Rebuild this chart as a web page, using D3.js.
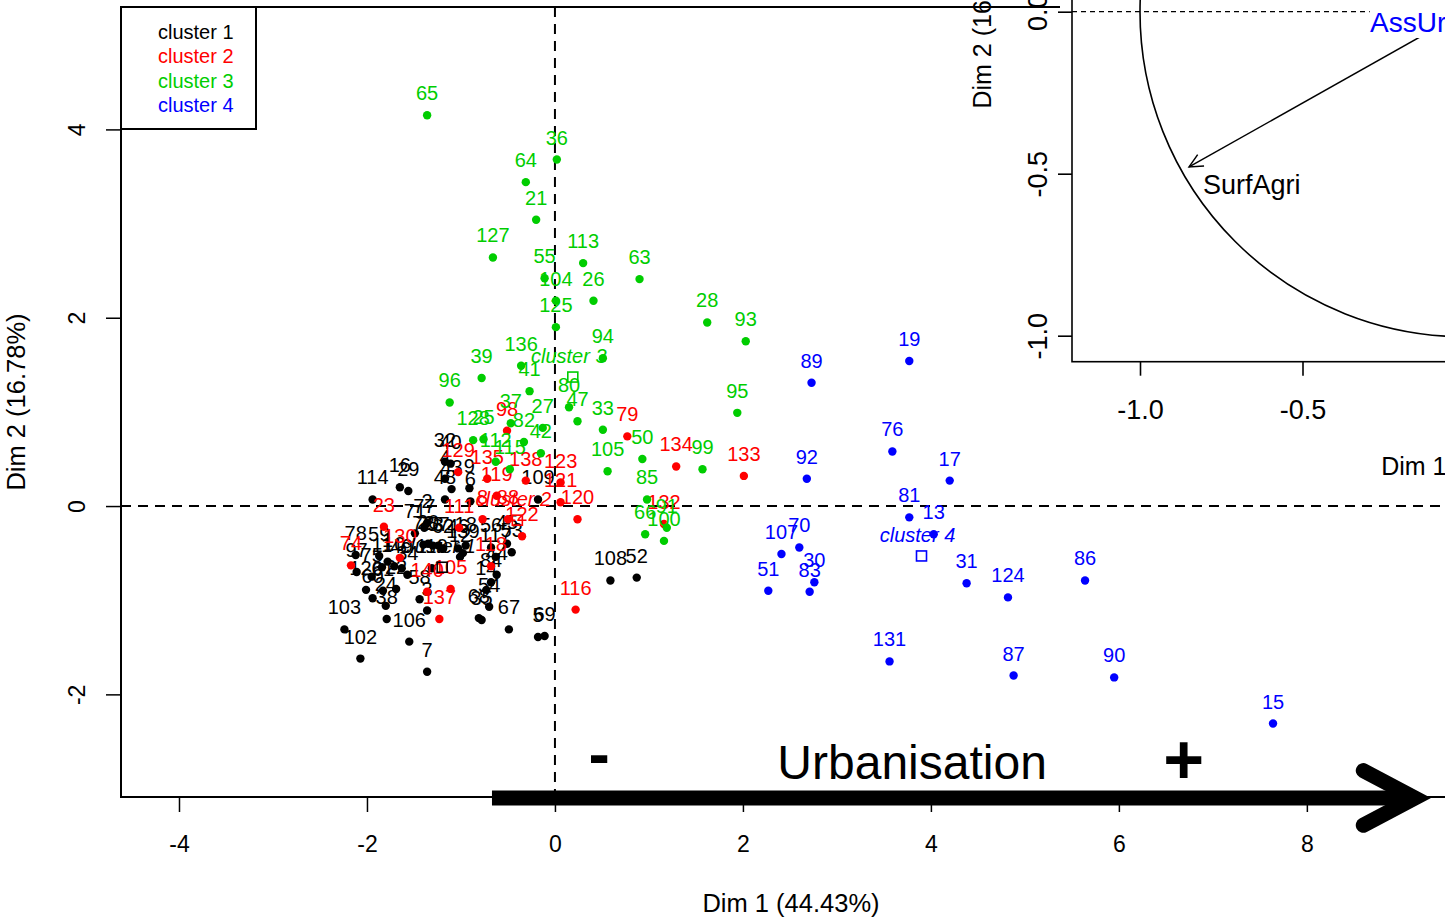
<!DOCTYPE html>
<html>
<head>
<meta charset="utf-8">
<script src="https://cdn.jsdelivr.net/npm/d3@7"></script>
<style>
html, body { margin: 0; padding: 0; background: #fff; overflow: hidden; }
svg { display: block; font-family: "Liberation Sans", Arial, sans-serif; }
</style>
</head>
<body>
<svg id="chart" width="1445" height="917"></svg>
<script>
// individuals: [label, Dim 1, Dim 2]
const cluster1 = [
  ['114',-1.94,0.07],['16',-1.65,0.20],['29',-1.56,0.16],['32',-1.17,0.47],['40',-1.11,0.45],
  ['4',-1.17,0.29],['43',-1.10,0.18],['48',-1.17,0.07],['9',-0.91,0.19],['6',-0.90,0.05],
  ['109',-0.18,0.07],['2',-1.36,-0.18],['71',-1.49,-0.29],['77',-1.39,-0.23],['72',-1.40,-0.41],
  ['20',-1.35,-0.40],['73',-1.30,-0.42],['57',-1.24,-0.42],['62',-1.19,-0.45],['46',-1.03,-0.45],
  ['18',-0.95,-0.42],['12',-1.01,-0.54],['78',-2.12,-0.52],['59',-1.87,-0.53],['97',-2.11,-0.70],
  ['75',-1.95,-0.75],['126',-2.01,-0.89],['1',-1.78,-0.59],['10',-1.71,-0.64],['11',-1.84,-0.65],
  ['49',-1.63,-0.66],['34',-1.57,-0.73],['60',-1.94,-0.98],['61',-1.83,-0.90],['24',-1.80,-1.06],
  ['22',-1.69,-0.88],['3',-1.36,-1.11],['58',-1.44,-0.99],['103',-2.24,-1.31],['102',-2.07,-1.62],
  ['106',-1.55,-1.44],['38',-1.79,-1.20],['7',-1.36,-1.76],['68',-0.81,-1.19],['35',-0.78,-1.21],
  ['67',-0.49,-1.31],['5',-0.18,-1.39],['69',-0.11,-1.38],['108',0.59,-0.79],['52',0.87,-0.76],
  ['84',-0.68,-0.81],['44',-0.62,-0.73],['54',-0.70,-1.07],['14',-0.73,-0.89],['56',-0.68,-0.44],
  ['45',-0.51,-0.40],['53',-0.46,-0.49],['117',-0.63,-0.54],['110',-1.31,-0.66],['139',-0.98,-0.50]
];
const cluster2 = [
  ['79',0.77,0.74],['134',1.29,0.42],['133',2.01,0.32],['123',0.06,0.25],['121',0.06,0.04],
  ['120',0.24,-0.14],['116',0.22,-1.10],['132',1.16,-0.19],['98',-0.51,0.80],['129',-1.03,0.36],
  ['135',-0.72,0.29],['119',-0.62,0.11],['138',-0.31,0.27],['111',-1.02,-0.23],['122',-0.35,-0.32],
  ['8',-0.77,-0.14],['88',-0.50,-0.14],['118',-0.68,-0.64],['140',-1.36,-0.91],['105',-1.11,-0.88],
  ['137',-1.23,-1.20],['74',-2.17,-0.63],['23',-1.82,-0.22],['130',-1.65,-0.55]
];
const cluster3 = [
  ['65',-1.36,4.15],['36',0.02,3.68],['64',-0.31,3.44],['21',-0.20,3.04],['127',-0.66,2.64],
  ['113',0.30,2.58],['63',0.90,2.41],['55',-0.11,2.42],['104',0.01,2.18],['26',0.41,2.18],
  ['125',0.01,1.90],['94',0.51,1.57],['136',-0.36,1.49],['41',-0.27,1.22],['80',0.15,1.05],
  ['47',0.24,0.90],['39',-0.78,1.36],['96',-1.12,1.10],['37',-0.47,0.88],['82',-0.33,0.68],
  ['27',-0.13,0.83],['42',-0.15,0.56],['128',-0.87,0.70],['25',-0.76,0.71],['112',-0.63,0.47],
  ['115',-0.48,0.39],['33',0.51,0.81],['50',0.93,0.50],['105',0.56,0.37],['85',0.98,0.07],
  ['99',1.57,0.39],['95',1.94,0.99],['66',0.96,-0.30],['100',1.16,-0.37],['91',1.19,-0.23],
  ['28',1.62,1.95],['93',2.03,1.75]
];
const cluster4 = [
  ['15',7.64,-2.31],['90',5.95,-1.82],['87',4.88,-1.80],['86',5.64,-0.79],['124',4.82,-0.97],
  ['131',3.56,-1.65],['31',4.38,-0.82],['13',4.03,-0.30],['81',3.77,-0.12],['17',4.20,0.27],
  ['76',3.59,0.58],['92',2.68,0.29],['107',2.41,-0.51],['70',2.60,-0.44],['51',2.27,-0.90],
  ['30',2.76,-0.81],['83',2.71,-0.91],['89',2.73,1.31],['19',3.77,1.54]
];
const clusterNames = ['cluster 1', 'cluster 2', 'cluster 3', 'cluster 4'];
const clusterColors = ['#000000', '#ff0000', '#00cd00', '#0000ff'];
const centroids = [[-1.20, -0.65], [-0.40, -0.15], [0.19, 1.37], [3.90, -0.53]];

const xTicks = [-4, -2, 0, 2, 4, 6, 8];
const yTicks = [-2, 0, 2, 4];
const xTitle = 'Dim 1 (44.43%)';
const yTitle = 'Dim 2 (16.78%)';

// variables factor map (inset)
const varNames = ['SurfAgri'];
const varCoords = [[-0.849, -0.479]];
const suppVarName = 'AssUrb';
const insetTicks = [-1.0, -0.5, 0.0];

const svg = d3.select('#chart');
const font = 'Liberation Sans, Arial, sans-serif';

const x = d3.scaleLinear().domain([-4.617, 9.64]).range([121, 1461]);
const y = d3.scaleLinear().domain([-3.09, 5.30]).range([797, 7]);

// reference lines
svg.append('line')
  .attr('x1', x(0)).attr('x2', x(0)).attr('y1', y(5.30)).attr('y2', y(-3.09))
  .attr('stroke', '#000').attr('stroke-width', 2).attr('stroke-dasharray', '10,7');
svg.append('line')
  .attr('x1', x(-4.617)).attr('x2', x(9.64)).attr('y1', y(0)).attr('y2', y(0))
  .attr('stroke', '#000').attr('stroke-width', 2).attr('stroke-dasharray', '10,7');

// axes (plain hyphen minus, like R)
const xAxis = svg.append('g')
  .attr('transform', `translate(0,${y(-3.09)})`)
  .call(d3.axisBottom(x).tickValues(xTicks).tickSize(15).tickSizeOuter(0).tickFormat(d => String(d)));
xAxis.select('.domain').remove();
xAxis.selectAll('line').attr('stroke-width', 1.5);
xAxis.selectAll('text').attr('y', 55).attr('dy', 0)
  .style('font-size', '23px').style('font-family', font).attr('fill', '#000');

const yAxis = svg.append('g')
  .attr('transform', `translate(${x(-4.617)},0)`)
  .call(d3.axisLeft(y).tickValues(yTicks).tickSize(15).tickSizeOuter(0).tickFormat(d => String(d)));
yAxis.select('.domain').remove();
yAxis.selectAll('line').attr('stroke-width', 1.5);
yAxis.selectAll('text')
  .attr('transform', 'rotate(-90)').attr('x', 0).attr('y', -36).attr('dy', 0)
  .attr('text-anchor', 'middle')
  .style('font-size', '23px').style('font-family', font).attr('fill', '#000');

svg.append('text')
  .attr('x', (x(-4.617) + x(9.64)) / 2).attr('y', 912)
  .attr('text-anchor', 'middle').style('font-size', '25.5px').text(xTitle);
svg.append('text')
  .attr('transform', `translate(25,${(y(5.30) + y(-3.09)) / 2}) rotate(-90)`)
  .attr('text-anchor', 'middle').style('font-size', '25.5px').text(yTitle);

// individuals
const clusters = [cluster1, cluster2, cluster3, cluster4];
clusters.forEach((pts, i) => {
  const g = svg.append('g').attr('fill', clusterColors[i]);
  g.selectAll('circle').data(pts).enter().append('circle')
    .attr('cx', d => x(d[1])).attr('cy', d => y(d[2])).attr('r', 4.2);
  g.selectAll('text').data(pts).enter().append('text')
    .attr('x', d => x(d[1])).attr('y', d => y(d[2]) - 15)
    .attr('text-anchor', 'middle').style('font-size', '20px')
    .text(d => d[0]);
});

// cluster centres
centroids.forEach((c, i) => {
  svg.append('rect')
    .attr('x', x(c[0]) - 5).attr('y', y(c[1]) - 5).attr('width', 10).attr('height', 10)
    .attr('fill', 'none').attr('stroke', clusterColors[i]).attr('stroke-width', 1.6);
  svg.append('text')
    .attr('x', x(c[0]) - 4).attr('y', y(c[1]) - 14)
    .attr('text-anchor', 'middle').style('font-size', '20px').style('font-style', 'italic')
    .attr('fill', clusterColors[i]).text(clusterNames[i]);
});

// frame
svg.append('rect')
  .attr('x', x(-4.617)).attr('y', y(5.30))
  .attr('width', x(9.64) - x(-4.617)).attr('height', y(-3.09) - y(5.30))
  .attr('fill', 'none').attr('stroke', '#000').attr('stroke-width', 2);

// legend
const legend = svg.append('g');
legend.append('rect').attr('x', 121).attr('y', 7).attr('width', 135).attr('height', 122)
  .attr('fill', '#fff').attr('stroke', '#000').attr('stroke-width', 2);
legend.selectAll('text').data(clusterNames).enter().append('text')
  .attr('x', 158).attr('y', (d, i) => 39 + i * 24.3)
  .style('font-size', '20px').attr('fill', (d, i) => clusterColors[i]).text(d => d);

// urbanisation arrow
const urb = svg.append('g');
urb.append('line')
  .attr('x1', x(-0.67)).attr('x2', x(9.05)).attr('y1', y(-3.1)).attr('y2', y(-3.1))
  .attr('stroke', '#000').attr('stroke-width', 15);
urb.append('path')
  .attr('d', `M${x(8.6)},${y(-2.81)} L${x(9.15)},${y(-3.1)} L${x(8.6)},${y(-3.39)}`)
  .attr('fill', 'none').attr('stroke', '#000').attr('stroke-width', 15)
  .attr('stroke-linecap', 'round').attr('stroke-linejoin', 'miter');
urb.append('text').attr('x', x(3.80)).attr('y', y(-2.9))
  .attr('text-anchor', 'middle').style('font-size', '48px').text('Urbanisation');
urb.append('text').attr('x', x(0.47)).attr('y', y(-2.87))
  .attr('text-anchor', 'middle').style('font-size', '64px').style('font-weight', 'bold').text('-');
urb.append('text').attr('x', x(6.69)).attr('y', y(-2.95))
  .attr('text-anchor', 'middle').style('font-size', '70px').style('font-weight', 'bold').text('+');

// inset: variables factor map
const xi = d3.scaleLinear().domain([-1, 0]).range([1140, 1465]);
const yi = d3.scaleLinear().domain([-1, 0]).range([335.7, 11.7]);
const inset = svg.append('g');
inset.append('rect').attr('x', 1060).attr('y', 0).attr('width', 385).attr('height', 380).attr('fill', '#fff');

const clip = svg.append('defs').append('clipPath').attr('id', 'insetClip');
clip.append('rect').attr('x', 1072).attr('y', -400).attr('width', 800).attr('height', 361.7 + 400);
const plotArea = inset.append('g').attr('clip-path', 'url(#insetClip)');

plotArea.append('circle')
  .attr('cx', xi(0)).attr('cy', yi(0)).attr('r', xi(0) - xi(-1))
  .attr('fill', 'none').attr('stroke', '#000').attr('stroke-width', 1.6);
plotArea.append('line')
  .attr('x1', 1072).attr('x2', 1461).attr('y1', yi(0)).attr('y2', yi(0))
  .attr('stroke', '#000').attr('stroke-width', 1.2).attr('stroke-dasharray', '5,4');

varCoords.forEach((v, i) => {
  const x0 = xi(0), y0 = yi(0), x1 = xi(v[0]), y1 = yi(v[1]);
  const ang = Math.atan2(y1 - y0, x1 - x0);
  const L = 15, a = Math.PI / 7;
  plotArea.append('line').attr('x1', x0).attr('y1', y0).attr('x2', x1).attr('y2', y1)
    .attr('stroke', '#000').attr('stroke-width', 1.5);
  plotArea.append('path')
    .attr('d', `M${x1 - L * Math.cos(ang - a)},${y1 - L * Math.sin(ang - a)} L${x1},${y1} L${x1 - L * Math.cos(ang + a)},${y1 - L * Math.sin(ang + a)}`)
    .attr('fill', 'none').attr('stroke', '#000').attr('stroke-width', 1.5);
  plotArea.append('text').attr('x', x1 + 14).attr('y', y1 + 27)
    .style('font-size', '27px').text(varNames[i]);
});

// supplementary variable label (drawn over the arrow, as in the original)
plotArea.append('rect').attr('x', xi(-0.293)).attr('y', 6).attr('width', 120).attr('height', 32).attr('fill', '#fff');
plotArea.append('text').attr('x', xi(-0.292)).attr('y', 32)
  .style('font-size', '28px').attr('fill', '#0000ff').text(suppVarName);

// inset frame and axes
inset.append('rect').attr('x', 1072).attr('y', -400).attr('width', 800).attr('height', 761.7)
  .attr('fill', 'none').attr('stroke', '#000').attr('stroke-width', 1.6);
const xiAxis = inset.append('g').attr('transform', 'translate(0,361.7)')
  .call(d3.axisBottom(xi).tickValues(insetTicks).tickSize(14).tickSizeOuter(0).tickFormat(d => d.toFixed(1)));
xiAxis.select('.domain').remove();
xiAxis.selectAll('line').attr('stroke-width', 1.6);
xiAxis.selectAll('text').attr('y', 57).attr('dy', 0)
  .style('font-size', '27px').style('font-family', font).attr('fill', '#000');
const yiAxis = inset.append('g').attr('transform', 'translate(1072,0)')
  .call(d3.axisLeft(yi).tickValues(insetTicks).tickSize(14).tickSizeOuter(0).tickFormat(d => d.toFixed(1)));
yiAxis.select('.domain').remove();
yiAxis.selectAll('line').attr('stroke-width', 1.6);
yiAxis.selectAll('text')
  .attr('transform', 'rotate(-90)').attr('x', 0).attr('y', -25).attr('dy', 0)
  .attr('text-anchor', 'middle')
  .style('font-size', '27px').style('font-family', font).attr('fill', '#000');

inset.append('text').attr('x', 1468).attr('y', 475)
  .attr('text-anchor', 'middle').style('font-size', '25px').text(xTitle);
inset.append('text')
  .attr('transform', `translate(991,${yi(0) + 10}) rotate(-90)`)
  .attr('text-anchor', 'middle').style('font-size', '25px').text(yTitle);
</script>
</body>
</html>
